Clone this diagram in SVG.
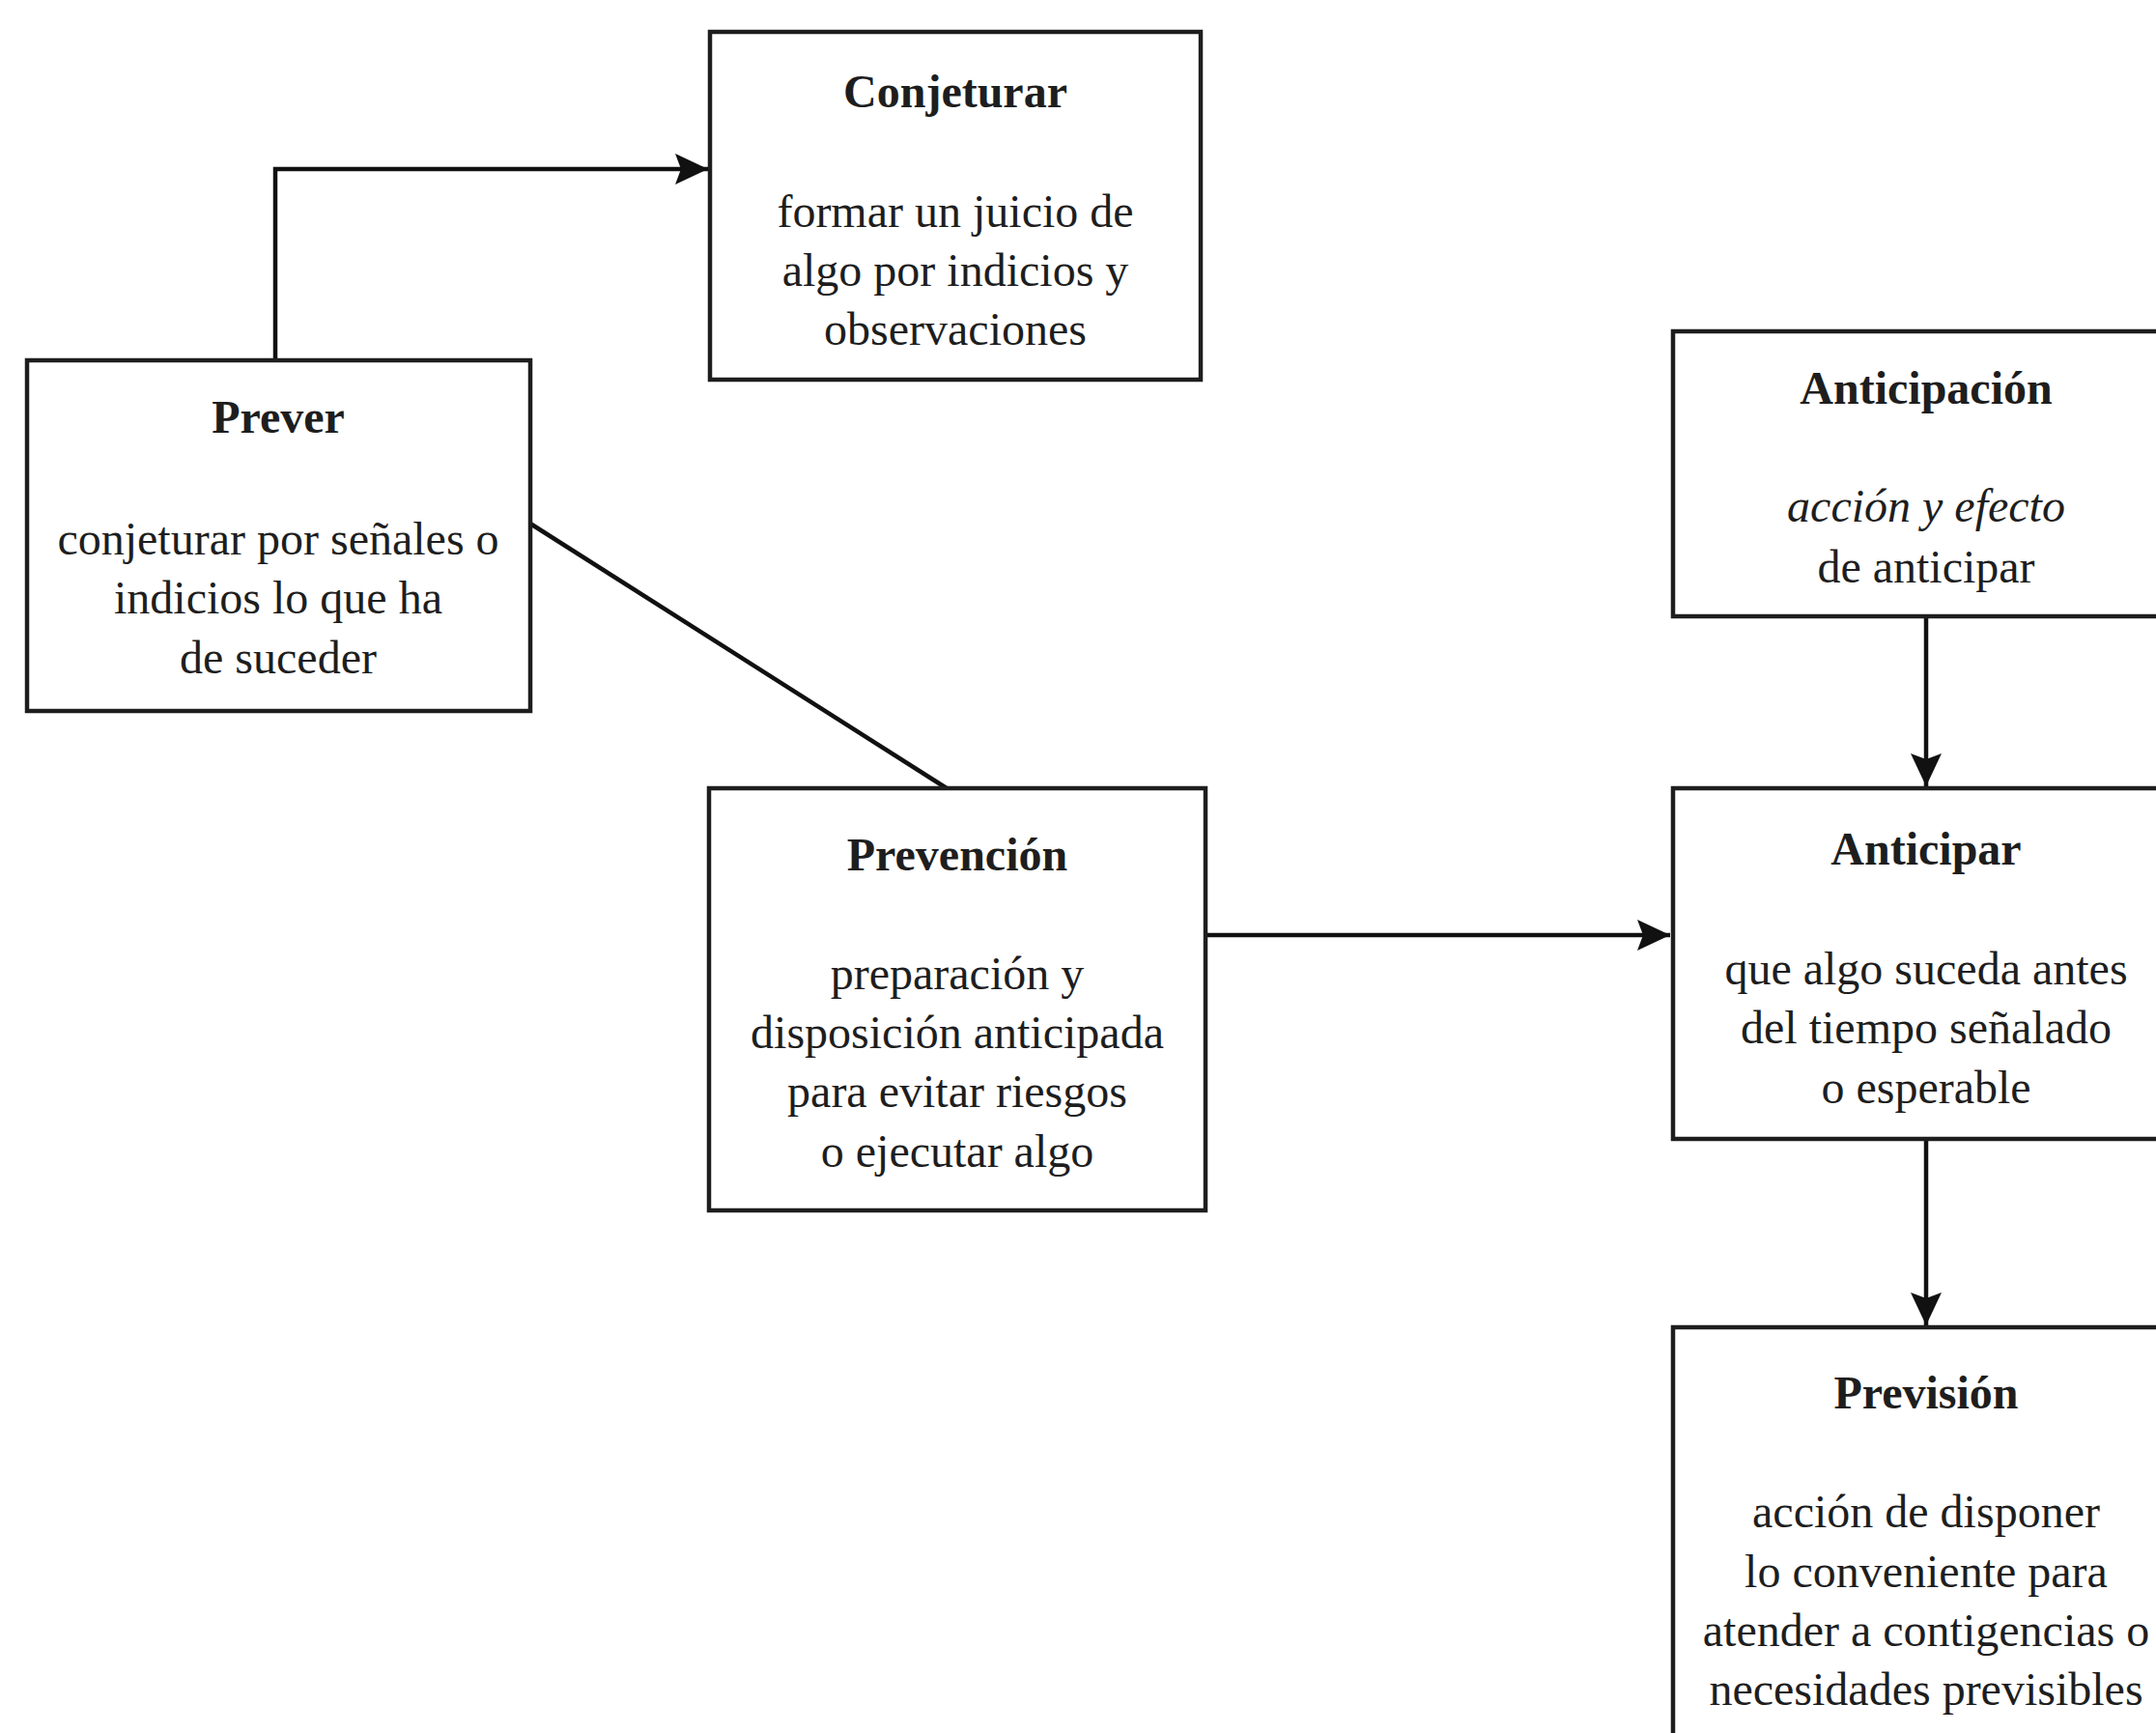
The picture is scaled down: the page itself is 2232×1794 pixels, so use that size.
<svg xmlns="http://www.w3.org/2000/svg" width="2232" height="1794" viewBox="0 0 2232 1794">
<style>
.box{fill:#fff;stroke:#1e1e1e;stroke-width:4.5}
.t{font-family:"Liberation Serif","Times New Roman",serif;font-size:48px;fill:#1e1e1e;text-anchor:middle}
.b{font-weight:bold}
.i{font-style:italic}
.c{fill:none;stroke:#111;stroke-width:4.5}
</style>
<defs>
<marker id="arr" markerUnits="userSpaceOnUse" markerWidth="38" markerHeight="34" refX="34" refY="16" orient="auto">
<path d="M0,0 L34,16 L0,32 L6,16 z" fill="#111"/>
</marker>
</defs>
<rect width="2232" height="1794" fill="#fff"/>
<g id="connectors">
<path class="c" d="M285,373 V175 H733" marker-end="url(#arr)"/>
<path class="c" d="M549,542 L980,816"/>
<path class="c" d="M1248,968 H1729" marker-end="url(#arr)"/>
<path class="c" d="M1994,638 V814" marker-end="url(#arr)"/>
<path class="c" d="M1994,1179 V1372" marker-end="url(#arr)"/>
</g>
<g id="conjeturar">
<rect class="box" x="735" y="33" width="508" height="360"/>
<text class="t b" x="989" y="111">Conjeturar</text>
<text class="t" x="989" y="235">formar un juicio de</text>
<text class="t" x="989" y="296">algo por indicios y</text>
<text class="t" x="989" y="357">observaciones</text>
</g>
<g id="prever">
<rect class="box" x="28" y="373" width="521" height="363"/>
<text class="t b" x="288" y="448">Prever</text>
<text class="t" x="288" y="574">conjeturar por señales o</text>
<text class="t" x="288" y="635">indicios lo que ha</text>
<text class="t" x="288" y="697">de suceder</text>
</g>
<g id="prevencion">
<rect class="box" x="734" y="816" width="514" height="437"/>
<text class="t b" x="991" y="901">Prevención</text>
<text class="t" x="991" y="1024">preparación y</text>
<text class="t" x="991" y="1085">disposición anticipada</text>
<text class="t" x="991" y="1146">para evitar riesgos</text>
<text class="t" x="991" y="1208">o ejecutar algo</text>
</g>
<g id="anticipacion">
<rect class="box" x="1732" y="343" width="526" height="295"/>
<text class="t b" x="1994" y="418">Anticipación</text>
<text class="t i" x="1994" y="540">acción y efecto</text>
<text class="t" x="1994" y="603">de anticipar</text>
</g>
<g id="anticipar">
<rect class="box" x="1732" y="816" width="526" height="363"/>
<text class="t b" x="1994" y="895">Anticipar</text>
<text class="t" x="1994" y="1019">que algo suceda antes</text>
<text class="t" x="1994" y="1080">del tiempo señalado</text>
<text class="t" x="1994" y="1142">o esperable</text>
</g>
<g id="prevision">
<rect class="box" x="1732" y="1374" width="526" height="460"/>
<text class="t b" x="1994" y="1458">Previsión</text>
<text class="t" x="1994" y="1581">acción de disponer</text>
<text class="t" x="1994" y="1643">lo conveniente para</text>
<text class="t" x="1994" y="1704">atender a contigencias o</text>
<text class="t" x="1994" y="1765">necesidades previsibles</text>
</g>
</svg>
